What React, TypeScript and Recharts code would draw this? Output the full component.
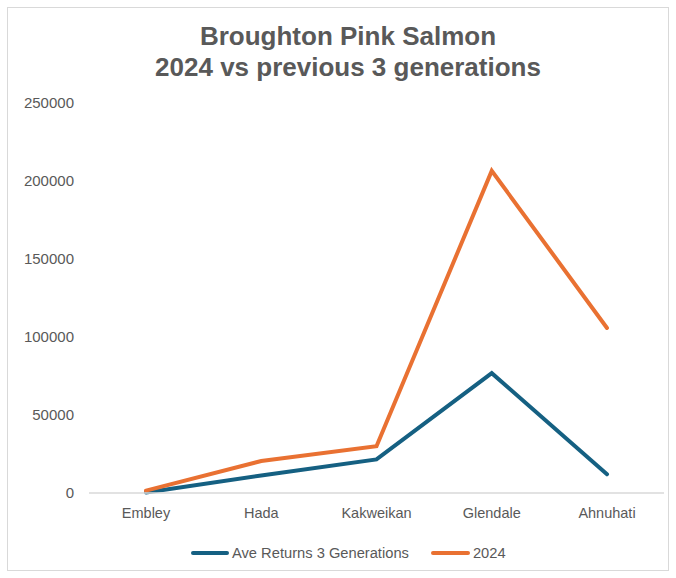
import React from "react";
import { LineChart, Line, XAxis, YAxis } from "recharts";

const rivers = ["Embley", "Hada", "Kakweikan", "Glendale", "Ahnuhati"];
const aveReturns = [300, 11200, 21500, 76800, 12000];
const returns2024 = [1500, 20500, 30000, 206500, 105800];
const yTicks = [0, 50000, 100000, 150000, 200000, 250000];

const BLUE = "#156082";
const ORANGE = "#E97132";
const TEXT = "#595959";
const FONT = "'Liberation Sans', Arial, sans-serif";

const data = rivers.map((name, i) => ({
  name,
  ave: aveReturns[i],
  y2024: returns2024[i],
}));

export default function App() {
  return (
    <div style={{ position: "absolute", left: 0, top: 0, width: 676, height: 578, background: "#fff", fontFamily: FONT }}>
      <div
        style={{
          position: "absolute", left: 7, top: 7, width: 662, height: 564,
          border: "1px solid #d9d9d9", boxSizing: "border-box",
        }}
      />
      <div
        style={{
          position: "absolute", left: 20, width: 656, top: 21, textAlign: "center",
          fontSize: 26, fontWeight: "bold", color: TEXT, lineHeight: "31px",
        }}
      >
        <div>Broughton Pink Salmon</div>
        <div>2024 vs previous 3 generations</div>
      </div>

      <div style={{ position: "absolute", left: 0, top: 0 }}>
        <LineChart width={676} height={578} data={data} margin={{ top: 103, right: 12, bottom: 55, left: 0 }}>
          <XAxis
            dataKey="name"
            height={30}
            padding={{ left: 57, right: 57 }}
            axisLine={{ stroke: "#d9d9d9", strokeWidth: 1.5 }}
            tickLine={false}
            tickSize={0}
            tickMargin={15}
            tick={{ fill: TEXT, fontSize: 14.5, fontFamily: FONT }}
          />
          <YAxis
            width={89}
            domain={[0, 250000]}
            ticks={yTicks}
            axisLine={false}
            tickLine={false}
            tickSize={0}
            tickMargin={15}
            tick={{ fill: TEXT, fontSize: 15, fontFamily: FONT }}
          />
          <Line type="linear" dataKey="ave" name="Ave Returns 3 Generations" stroke={BLUE} strokeWidth={4} strokeLinecap="round" dot={false} isAnimationActive={false} />
          <Line type="linear" dataKey="y2024" name="2024" stroke={ORANGE} strokeWidth={4} strokeLinecap="round" dot={false} isAnimationActive={false} />
        </LineChart>
      </div>

      <div style={{ position: "absolute", left: 191, top: 543, height: 20, display: "flex", alignItems: "center", fontSize: 14.7, color: TEXT }}>
        <span style={{ display: "inline-block", width: 38, height: 4, borderRadius: 2, background: BLUE, marginRight: 3 }} />
        <span>Ave Returns 3 Generations</span>
        <span style={{ display: "inline-block", width: 39, height: 4, borderRadius: 2, background: ORANGE, marginLeft: 22, marginRight: 3 }} />
        <span>2024</span>
      </div>
    </div>
  );
}
